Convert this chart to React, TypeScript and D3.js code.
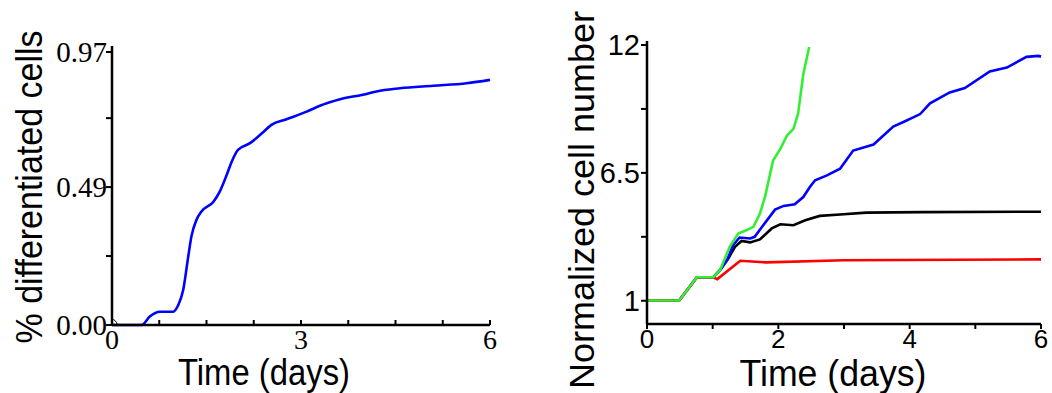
import React from 'react';
import * as d3 from 'd3';

// left panel: fraction of differentiated cells
const diffDays = [0, 0.47, 0.6, 0.76, 0.97, 1.05, 1.13, 1.21, 1.26, 1.34, 1.42, 1.61, 1.71, 1.82, 1.9, 2.0, 2.19, 2.38, 2.53, 2.77, 3.09, 3.3, 3.62, 4.04, 4.2, 4.57, 5.1, 5.63, 6.0];
const diffValues = [0, 0, 0.03, 0.047, 0.047, 0.07, 0.124, 0.243, 0.314, 0.373, 0.403, 0.438, 0.474, 0.533, 0.58, 0.622, 0.646, 0.681, 0.711, 0.731, 0.758, 0.779, 0.802, 0.821, 0.83, 0.841, 0.85, 0.859, 0.871];

// right panel: normalized cell number
const redDays = [0, 0.49, 0.76, 1.01, 1.07, 1.42, 1.82, 3.0, 6.0];
const redValues = [1.01, 1.01, 2.01, 2.01, 1.93, 2.72, 2.65, 2.74, 2.78];
const blackDays = [0, 0.49, 0.76, 1.01, 1.11, 1.24, 1.34, 1.44, 1.57, 1.72, 1.9, 2.03, 2.23, 2.41, 2.63, 2.94, 3.34, 4.2, 6.0];
const blackValues = [1.01, 1.01, 2.01, 2.01, 2.32, 2.83, 3.32, 3.57, 3.51, 3.64, 4.11, 4.29, 4.25, 4.46, 4.65, 4.71, 4.79, 4.81, 4.83];
const blueDays = [0, 0.49, 0.76, 1.01, 1.11, 1.22, 1.31, 1.41, 1.57, 1.64, 1.77, 1.95, 2.08, 2.25, 2.38, 2.48, 2.56, 2.74, 2.94, 3.14, 3.45, 3.75, 3.93, 4.16, 4.31, 4.61, 4.84, 5.22, 5.48, 5.78, 5.96, 6.0];
const blueValues = [1.01, 1.01, 2.01, 2.01, 2.3, 2.75, 3.39, 3.72, 3.68, 3.75, 4.25, 4.92, 5.08, 5.15, 5.46, 5.89, 6.18, 6.39, 6.68, 7.46, 7.72, 8.49, 8.72, 9.03, 9.49, 9.96, 10.15, 10.86, 11.03, 11.49, 11.53, 11.5];
const greenDays = [0, 0.49, 0.76, 1.01, 1.11, 1.26, 1.39, 1.52, 1.62, 1.72, 1.8, 1.92, 2.03, 2.13, 2.23, 2.3, 2.38, 2.47];
const greenValues = [1.01, 1.01, 2.01, 2.01, 2.3, 3.32, 3.89, 4.04, 4.18, 4.75, 5.5, 7.03, 7.53, 8.1, 8.39, 9.03, 10.74, 11.91];

const leftYTicks = [0, 0.245, 0.49, 0.735, 0.97];
const leftYLabels = ['0.00', '', '0.49', '', '0.97'];
const leftXTicks = [0, 0.75, 1.5, 2.25, 3, 3.75, 4.5, 5.25, 6];
const leftXLabels = ['0', '', '', '', '3', '', '', '', '6'];
const rightYTicks = [1, 3.75, 6.5, 9.25, 12];
const rightYLabels = ['1', '', '6.5', '', '12'];
const rightXTicks = [0, 1, 2, 3, 4, 5, 6];
const rightXLabels = ['0', '', '2', '', '4', '', '6'];

const SANS = 'Liberation Sans, Arial, sans-serif';
const SERIF = 'Liberation Serif, Times New Roman, serif';

const zip = (xs: number[], ys: number[]) => xs.map((x, i) => [x, ys[i]] as [number, number]);

export default function App() {
  const lx = d3.scaleLinear().domain([0, 6]).range([112, 490]);
  const ly = d3.scaleLinear().domain([0, 0.97]).range([325, 52]);
  const rx = d3.scaleLinear().domain([0, 6]).range([647, 1041]);
  const ry = d3.scaleLinear().domain([0, 12]).range([324, 45]);

  const leftLine = d3.line<[number, number]>().x((d) => lx(d[0])).y((d) => ly(d[1])).curve(d3.curveMonotoneX);
  const rightLine = d3.line<[number, number]>().x((d) => rx(d[0])).y((d) => ry(d[1]));

  const series = [
    { days: blackDays, values: blackValues, color: '#000000' },
    { days: blueDays, values: blueValues, color: '#0000ff' },
    { days: redDays, values: redValues, color: '#ff0000' },
    { days: greenDays, values: greenValues, color: '#33ee33' },
  ];

  return (
    <svg width={1052} height={393} style={{ position: 'absolute', left: 0, top: 0, background: '#fff' }}>
      {/* left panel */}
      <g>
        <path d={leftLine(zip(diffDays, diffValues)) || ''} fill="none" stroke="#0000ff" strokeWidth={2.6} />
        <line x1={lx(0)} x2={lx(0)} y1={46} y2={ly(0)} stroke="#000" strokeWidth={2.5} />
        <line x1={lx(0)} x2={lx(6)} y1={ly(0)} y2={ly(0)} stroke="#000" strokeWidth={2.5} />
        <path d={`M${lx(0) - 1},${ly(0) - 6} A6,6 0 0 1 ${lx(0) + 5},${ly(0)}`} fill="none" stroke="#000" strokeWidth={1} />
        {leftYTicks.map((t, i) => (
          <g key={`ly${i}`}>
            <line x1={lx(0) - 6} x2={lx(0)} y1={ly(t)} y2={ly(t)} stroke="#000" strokeWidth={2} />
            <text x={lx(0) - 5} y={ly(t)} dy="0.35em" textAnchor="end" fontFamily={SERIF} fontSize={29}>
              {leftYLabels[i]}
            </text>
          </g>
        ))}
        {leftXTicks.map((t, i) => (
          <g key={`lx${i}`}>
            <line x1={lx(t)} x2={lx(t)} y1={ly(0)} y2={ly(0) - 5} stroke="#000" strokeWidth={2} />
            <text x={lx(t)} y={349} textAnchor="middle" fontFamily={SERIF} fontSize={28}>
              {leftXLabels[i]}
            </text>
          </g>
        ))}
        <text x={264} y={385} textAnchor="middle" fontFamily={SANS} fontSize={36} textLength={172} lengthAdjust="spacingAndGlyphs">
          Time (days)
        </text>
        <text transform="translate(42,187) rotate(-90)" textAnchor="middle" fontFamily={SANS} fontSize={36} textLength={313} lengthAdjust="spacingAndGlyphs">
          % differentiated cells
        </text>
      </g>

      {/* right panel */}
      <g>
        {series.map((s, i) => (
          <path key={i} d={rightLine(zip(s.days, s.values)) || ''} fill="none" stroke={s.color} strokeWidth={2.6} />
        ))}
        <line x1={rx(0)} x2={rx(0)} y1={41} y2={ry(0)} stroke="#000" strokeWidth={2.5} />
        <line x1={rx(0)} x2={rx(6)} y1={ry(0)} y2={ry(0)} stroke="#000" strokeWidth={2.5} />
        {rightYTicks.map((t, i) => (
          <g key={`ry${i}`}>
            <line x1={rx(0) - 6} x2={rx(0)} y1={ry(t)} y2={ry(t)} stroke="#000" strokeWidth={2} />
            <text x={rx(0) - 7} y={ry(t)} dy="0.35em" textAnchor="end" fontFamily={SANS} fontSize={29}>
              {rightYLabels[i]}
            </text>
          </g>
        ))}
        {rightXTicks.map((t, i) => (
          <g key={`rx${i}`}>
            <line x1={rx(t)} x2={rx(t)} y1={ry(0)} y2={ry(0) + 5} stroke="#000" strokeWidth={2} />
            <text x={rx(t)} y={348} textAnchor="middle" fontFamily={SANS} fontSize={26}>
              {rightXLabels[i]}
            </text>
          </g>
        ))}
        <text x={833} y={386} textAnchor="middle" fontFamily={SANS} fontSize={36} textLength={187} lengthAdjust="spacingAndGlyphs">
          Time (days)
        </text>
        <text transform="translate(594,200) rotate(-90)" textAnchor="middle" fontFamily={SANS} fontSize={35} textLength={378} lengthAdjust="spacingAndGlyphs">
          Normalized cell number
        </text>
      </g>
    </svg>
  );
}
